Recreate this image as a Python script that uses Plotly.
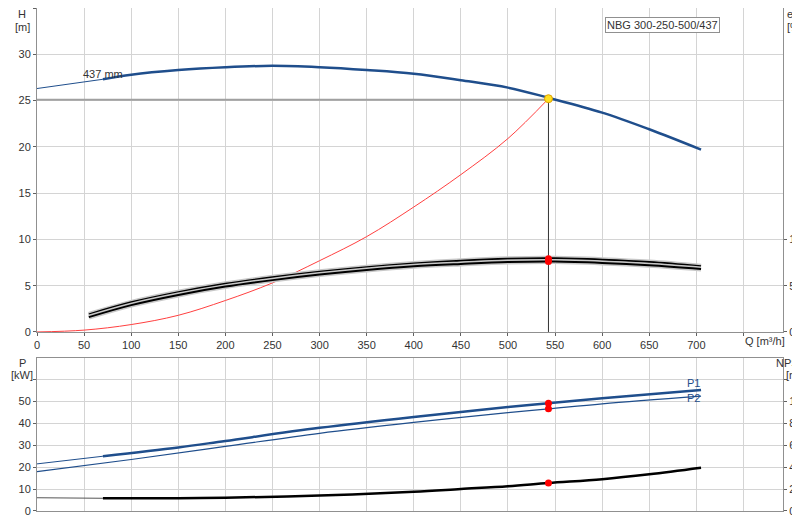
import plotly.graph_objects as go

# Pump curve H (m)
q_h = [70, 100, 150, 200, 250, 300, 350, 400, 450, 500, 543, 600, 650, 705]
h = [27.3, 27.8, 28.3, 28.6, 28.75, 28.6, 28.3, 27.9, 27.2, 26.4, 25.3, 23.7, 21.9, 19.7]
q_h_ext = [0, 70]
h_ext = [26.3, 27.3]

# System curve (red)
q_sys = [0, 50, 100, 150, 200, 250, 300, 350, 400, 450, 500, 543]
h_sys = [0, 0.2, 0.8, 1.8, 3.4, 5.3, 7.7, 10.3, 13.5, 17.0, 20.9, 25.2]

# Efficiency curves (%)
q_eta = [55, 100, 150, 200, 250, 300, 350, 400, 450, 500, 550, 600, 650, 705]
eta_a = [19, 32, 43, 52, 59, 65, 70, 74, 77, 79, 79.5, 78, 75.5, 71]
eta_b = [16, 29, 40, 49, 56, 62, 67, 71, 73.5, 75.5, 76, 74.5, 72, 68]

# Power (kW)
q_p = [70, 150, 200, 300, 400, 500, 543, 600, 705]
p1 = [25, 29, 32, 38, 43, 47.5, 49.3, 51.5, 55.3]
q_p2 = [0, 100, 200, 300, 400, 500, 543, 600, 705]
p2 = [18, 23.5, 29.5, 35.5, 40.5, 45, 46.7, 49, 52.5]
q_p1_ext = [0, 70]
p1_ext = [21.5, 25]

# NPSH (m)
q_npsh = [70, 150, 200, 300, 400, 450, 500, 543, 600, 650, 705]
npsh = [1.15, 1.15, 1.2, 1.4, 1.75, 2.0, 2.25, 2.55, 2.9, 3.35, 3.95]
q_npsh_ext = [0, 70]
npsh_ext = [1.2, 1.15]

q_duty = 543
h_duty = 25.2
eta_duty = [79, 76]
p_duty = [49.3, 46.7]
npsh_duty = 2.55

q_ticks = list(range(0, 701, 50))

BLUE = "#1f4e8c"
fig = go.Figure()

def line(x, y, color, width, xa="x", ya="y"):
    fig.add_trace(go.Scatter(x=x, y=y, mode="lines", xaxis=xa, yaxis=ya,
                             line=dict(color=color, width=width, shape="spline"),
                             showlegend=False, hoverinfo="skip"))

# top chart
fig.add_trace(go.Scatter(x=[0, q_duty], y=[25.1, 25.1], mode="lines",
                         line=dict(color="#a0a0a0", width=2), showlegend=False))
fig.add_trace(go.Scatter(x=[q_duty, q_duty], y=[0, h_duty], mode="lines",
                         line=dict(color="#333333", width=1), showlegend=False))
line(q_sys, h_sys, "#ff4040", 1)
line(q_h_ext, h_ext, BLUE, 1)
line(q_h, h, BLUE, 2.5)
for e in (eta_a, eta_b):
    line(q_eta, e, "#c8c8c8", 5, ya="y2")
    line(q_eta, e, "black", 2, ya="y2")
fig.add_trace(go.Scatter(x=[q_duty, q_duty], y=eta_duty, mode="markers", yaxis="y2",
                         marker=dict(color="red", size=7), showlegend=False))
fig.add_trace(go.Scatter(x=[q_duty], y=[h_duty], mode="markers",
                         marker=dict(color="#ffe020", size=8, line=dict(color="#e0a000", width=1)),
                         showlegend=False))

# bottom chart
line(q_p1_ext, p1_ext, BLUE, 1, "x2", "y3")
line(q_p, p1, BLUE, 2.5, "x2", "y3")
line(q_p2, p2, BLUE, 1.2, "x2", "y3")
line(q_npsh_ext, npsh_ext, "#555555", 1, "x2", "y4")
line(q_npsh, npsh, "black", 2.5, "x2", "y4")
fig.add_trace(go.Scatter(x=[q_duty, q_duty], y=p_duty, mode="markers", xaxis="x2", yaxis="y3",
                         marker=dict(color="red", size=7), showlegend=False))
fig.add_trace(go.Scatter(x=[q_duty], y=[npsh_duty], mode="markers", xaxis="x2", yaxis="y4",
                         marker=dict(color="red", size=7), showlegend=False))

grid = "#d4d4d4"
ax = dict(showgrid=True, gridcolor=grid, gridwidth=1, showline=True, linecolor="#909090",
          linewidth=1, ticks="outside", ticklen=3, tickcolor="#606060", zeroline=False,
          automargin=False, tickfont=dict(size=11, color="#333333"))
fig.update_layout(
    width=800, height=520, margin=dict(l=29, r=25, t=0, b=0),
    plot_bgcolor="white", paper_bgcolor="white",
    font=dict(family="Liberation Sans", size=11, color="#333333"),
    xaxis=dict(ax, range=[0, 792], tickvals=q_ticks + [750], ticktext=[str(t) for t in q_ticks] + [""],
               anchor="y", mirror=True),
    yaxis=dict(ax, domain=[0.377, 1], range=[0, 35], dtick=5, mirror=True),
    yaxis2=dict(ax, overlaying="y", side="right", range=[0, 350], showgrid=False,
                tickvals=[0, 50, 100], anchor="x"),
    xaxis2=dict(ax, range=[0, 792], tickvals=q_ticks + [750], anchor="y3",
                showticklabels=False, ticks="", mirror=True),
    yaxis3=dict(ax, domain=[0.033, 0.327], range=[0, 70], mirror=True,
                tickvals=[0, 10, 20, 30, 40, 50, 60], ticktext=["0", "10", "20", "30", "40", "50", ""]),
    yaxis4=dict(ax, overlaying="y3", side="right", range=[0, 14], showgrid=False,
                tickvals=[0, 2, 4, 6, 8, 10, 12], ticktext=["0", "2", "4", "6", "8", "10", ""], anchor="x2"),
)

def txt(x, y, s, xa="paper", ya="paper", xanchor="center", color="#333333"):
    fig.add_annotation(x=x, y=y, text=s, xref=xa, yref=ya, showarrow=False,
                       xanchor=xanchor, yanchor="middle", font=dict(size=11, color=color))

px = lambda p: (p - 29) / 746
py = lambda p: 1 - p / 520
txt(px(14), py(6), "H"); txt(px(14), py(19), "[m]")
txt(px(787), py(6), "eta"); txt(px(787), py(19), "[%]")
txt(px(757), py(333), "Q [m³/h]")
txt(px(14), py(355), "P"); txt(px(14), py(367), "[kW]")
txt(px(783), py(355), "NPSH"); txt(px(785), py(367), "[m]")
txt(47, 27.9, "437 mm", "x", "y", xanchor="left")
txt(697, 58.5, "P1", "x2", "y3", color=BLUE)
txt(697, 51.5, "P2", "x2", "y3", color=BLUE)
fig.add_annotation(x=px(712), y=py(9), text="NBG 300-250-500/437", xref="paper", yref="paper",
                   showarrow=False, bordercolor="#909090", borderwidth=1, bgcolor="white",
                   font=dict(size=11, color="#333333"))

fig.write_html("out.html")
